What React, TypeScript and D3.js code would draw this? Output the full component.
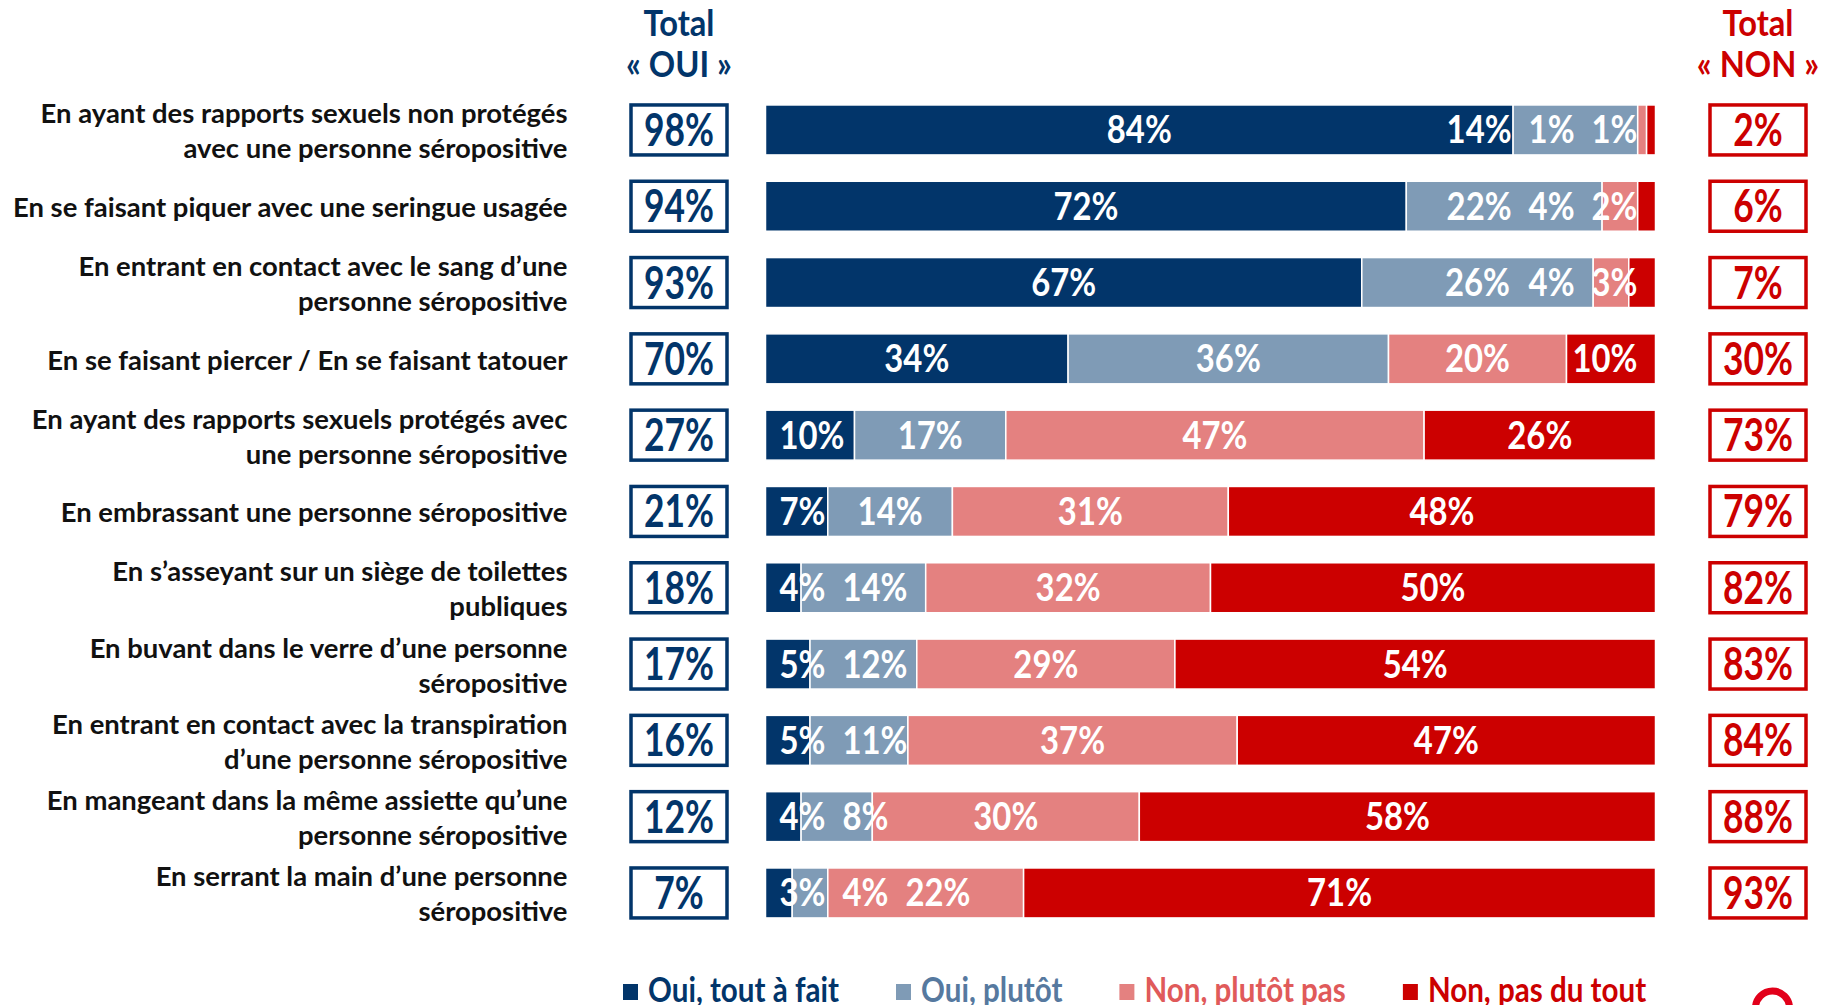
import React, { useMemo } from "react";
import * as d3 from "d3";

// ---------- DATA ----------
const categories: string[][] = [
  ["En ayant des rapports sexuels non protégés", "avec une personne séropositive"],
  ["En se faisant piquer avec une seringue usagée"],
  ["En entrant en contact avec le sang d’une", "personne séropositive"],
  ["En se faisant piercer / En se faisant tatouer"],
  ["En ayant des rapports sexuels protégés avec", "une personne séropositive"],
  ["En embrassant une personne séropositive"],
  ["En s’asseyant sur un siège de toilettes", "publiques"],
  ["En buvant dans le verre d’une personne", "séropositive"],
  ["En entrant en contact avec la transpiration", "d’une personne séropositive"],
  ["En mangeant dans la même assiette qu’une", "personne séropositive"],
  ["En serrant la main d’une personne", "séropositive"],
];
const ouiToutAFait = [84, 72, 67, 34, 10, 7, 4, 5, 5, 4, 3];
const ouiPlutot = [14, 22, 26, 36, 17, 14, 14, 12, 11, 8, 4];
const nonPlutotPas = [1, 4, 4, 20, 47, 31, 32, 29, 37, 30, 22];
const nonPasDuTout = [1, 2, 3, 10, 26, 48, 50, 54, 47, 58, 71];
const totalOui = [98, 94, 93, 70, 27, 21, 18, 17, 16, 12, 7];
const totalNon = [2, 6, 7, 30, 73, 79, 82, 83, 84, 88, 93];
const seriesNames = ["Oui, tout à fait", "Oui, plutôt", "Non, plutôt pas", "Non, pas du tout"];
const headerOui = ["Total", "« OUI »"];
const headerNon = ["Total", "« NON »"];

// ---------- STYLE ----------
const W = 1827;
const H = 1005;
const FONT = "Lato, 'Open Sans', 'DejaVu Sans', sans-serif";
const NAVY = "#02356a";
const RED = "#cc0000";
const COLORS = [NAVY, "#7f9bb6", "#e48180", RED];
const LEGEND_TEXT = [NAVY, "#56799f", "#e05a5a", RED];

let ctx: CanvasRenderingContext2D | null = null;
function textWidth(t: string, size: number): number {
  if (!ctx) ctx = document.createElement("canvas").getContext("2d");
  if (!ctx) return t.length * size * 0.5;
  ctx.font = `bold ${size}px ${FONT}`;
  return ctx.measureText(t).width;
}

type STProps = {
  x: number;
  y: number;
  size: number;
  sx: number;
  fill: string;
  anchor?: "start" | "middle" | "end";
  children: React.ReactNode;
};
function SText({ x, y, size, sx, fill, anchor = "start", children }: STProps) {
  return (
    <text
      transform={`translate(${x},${y}) scale(${sx},1)`}
      textAnchor={anchor}
      fontSize={size}
      fill={fill}
    >
      {children}
    </text>
  );
}

export default function App() {
  const keys = ["a", "b", "c", "d"];
  const rows = categories.map((_, i) => ({
    i,
    a: ouiToutAFait[i],
    b: ouiPlutot[i],
    c: nonPlutotPas[i],
    d: nonPasDuTout[i],
  }));
  const stacked = d3.stack<any>().keys(keys)(rows);

  const x = d3.scaleLinear().domain([0, 100]).range([765.5, 1655.5]);
  const y = d3
    .scaleBand<number>()
    .domain(rows.map((r) => r.i))
    .range([91.8, 931.1])
    .paddingInner(0.345)
    .paddingOuter(0.1725);
  const bw = y.bandwidth();

  // font sizes and horizontal condensation (to mimic a narrow Calibri look)
  const LBL = 38;
  const BOX = 45;
  const CAT = 26.5;
  const HDR = 36;
  const LEG = 34;
  const sxLbl = 65 / textWidth("84%", LBL);
  const sxBox = 70 / textWidth("98%", BOX);
  const sxCat = 527 / textWidth("En ayant des rapports sexuels non protégés", CAT);
  const sxHdr = 106 / textWidth("« OUI »", HDR);
  const sxLeg = 191 / textWidth("Oui, tout à fait", LEG);

  const labels = useMemo(() => {
    return rows.map((r) => {
      const items = stacked.map((s) => {
        const d = s[r.i];
        const v = d[1] - d[0];
        const t = `${v}%`;
        const w = textWidth(t, LBL) * sxLbl;
        return { t, w, left: (x(d[0]) + x(d[1])) / 2 - w / 2 };
      });
      const gap = 17;
      let minLeft = x(0) + 14;
      for (const it of items) {
        if (it.left < minLeft) it.left = minLeft;
        minLeft = it.left + it.w + gap;
      }
      let maxRight = x(100) - 18;
      for (let k = items.length - 1; k >= 0; k--) {
        const it = items[k];
        if (it.left + it.w > maxRight) it.left = maxRight - it.w;
        maxRight = it.left - gap;
      }
      return items;
    });
  }, []);

  // legend layout
  const legendItems: { x: number; name: string; color: string; tcolor: string }[] = [];
  let lx = 623;
  seriesNames.forEach((n, k) => {
    legendItems.push({ x: lx, name: n, color: COLORS[k], tcolor: LEGEND_TEXT[k] });
    lx += 25 + textWidth(n, LEG) * sxLeg + 57;
  });

  const boxOuiX = 679;
  const boxNonX = 1758;
  const boxW = 96;

  return (
    <svg
      width={W}
      height={H}
      viewBox={`0 0 ${W} ${H}`}
      style={{ position: "absolute", left: 0, top: 0, background: "#fff" }}
      fontFamily={FONT}
      fontWeight="bold"
    >
      <rect x={0} y={0} width={W} height={H} fill="#fff" />
      {/* headers */}
      {headerOui.map((t, k) => (
        <SText key={"ho" + k} x={boxOuiX} y={36 + k * 41} size={HDR} sx={sxHdr} anchor="middle" fill={NAVY}>
          {t}
        </SText>
      ))}
      {headerNon.map((t, k) => (
        <SText key={"hn" + k} x={boxNonX} y={36 + k * 41} size={HDR} sx={sxHdr} anchor="middle" fill={RED}>
          {t}
        </SText>
      ))}

      {/* category labels */}
      {categories.map((lines, i) => {
        const cy = (y(i) as number) + bw / 2 + 1.5;
        const n = lines.length;
        return lines.map((l, k) => (
          <SText
            key={`c${i}-${k}`}
            x={567.5}
            y={cy + (k - (n - 1) / 2) * 35 + 9.5}
            size={CAT}
            sx={sxCat}
            anchor="end"
            fill="#111"
          >
            {l}
          </SText>
        ));
      })}

      {/* bars */}
      {stacked.map((s, k) => (
        <g key={"s" + k} fill={COLORS[k]}>
          {s.map((d, i) => (
            <rect
              key={i}
              x={x(d[0])}
              y={y(i) as number}
              width={Math.max(0, x(d[1]) - x(d[0]))}
              height={bw}
              stroke="#fff"
              strokeWidth={1.5}
            />
          ))}
        </g>
      ))}

      {/* bar value labels */}
      {labels.map((items, i) => {
        const cy = (y(i) as number) + bw / 2;
        return items.map((it, k) => (
          <SText key={`l${i}-${k}`} x={it.left} y={cy + 13.5} size={LBL} sx={sxLbl} fill="#fff">
            {it.t}
          </SText>
        ));
      })}

      {/* total boxes */}
      {totalOui.map((v, i) => {
        const top = y(i) as number;
        return (
          <g key={"bo" + i}>
            <rect x={boxOuiX - boxW / 2} y={top} width={boxW} height={bw} fill="#fff" stroke={NAVY} strokeWidth={3.5} />
            <SText x={boxOuiX} y={top + bw / 2 + 16} size={BOX} sx={sxBox} anchor="middle" fill={NAVY}>
              {v}%
            </SText>
          </g>
        );
      })}
      {totalNon.map((v, i) => {
        const top = y(i) as number;
        return (
          <g key={"bn" + i}>
            <rect x={boxNonX - boxW / 2} y={top} width={boxW} height={bw} fill="#fff" stroke={RED} strokeWidth={3.5} />
            <SText x={boxNonX} y={top + bw / 2 + 16} size={BOX} sx={sxBox} anchor="middle" fill={RED}>
              {v}%
            </SText>
          </g>
        );
      })}

      {/* legend */}
      {legendItems.map((it, k) => (
        <g key={"lg" + k}>
          <rect x={it.x} y={984} width={15} height={16} fill={it.color} />
          <SText x={it.x + 25} y={1002} size={LEG} sx={sxLeg} fill={it.tcolor}>
            {it.name}
          </SText>
        </g>
      ))}

      {/* logo fragment */}
      <circle cx={1772.5} cy={1008} r={17} fill="none" stroke="#e2001a" strokeWidth={7} />
    </svg>
  );
}
